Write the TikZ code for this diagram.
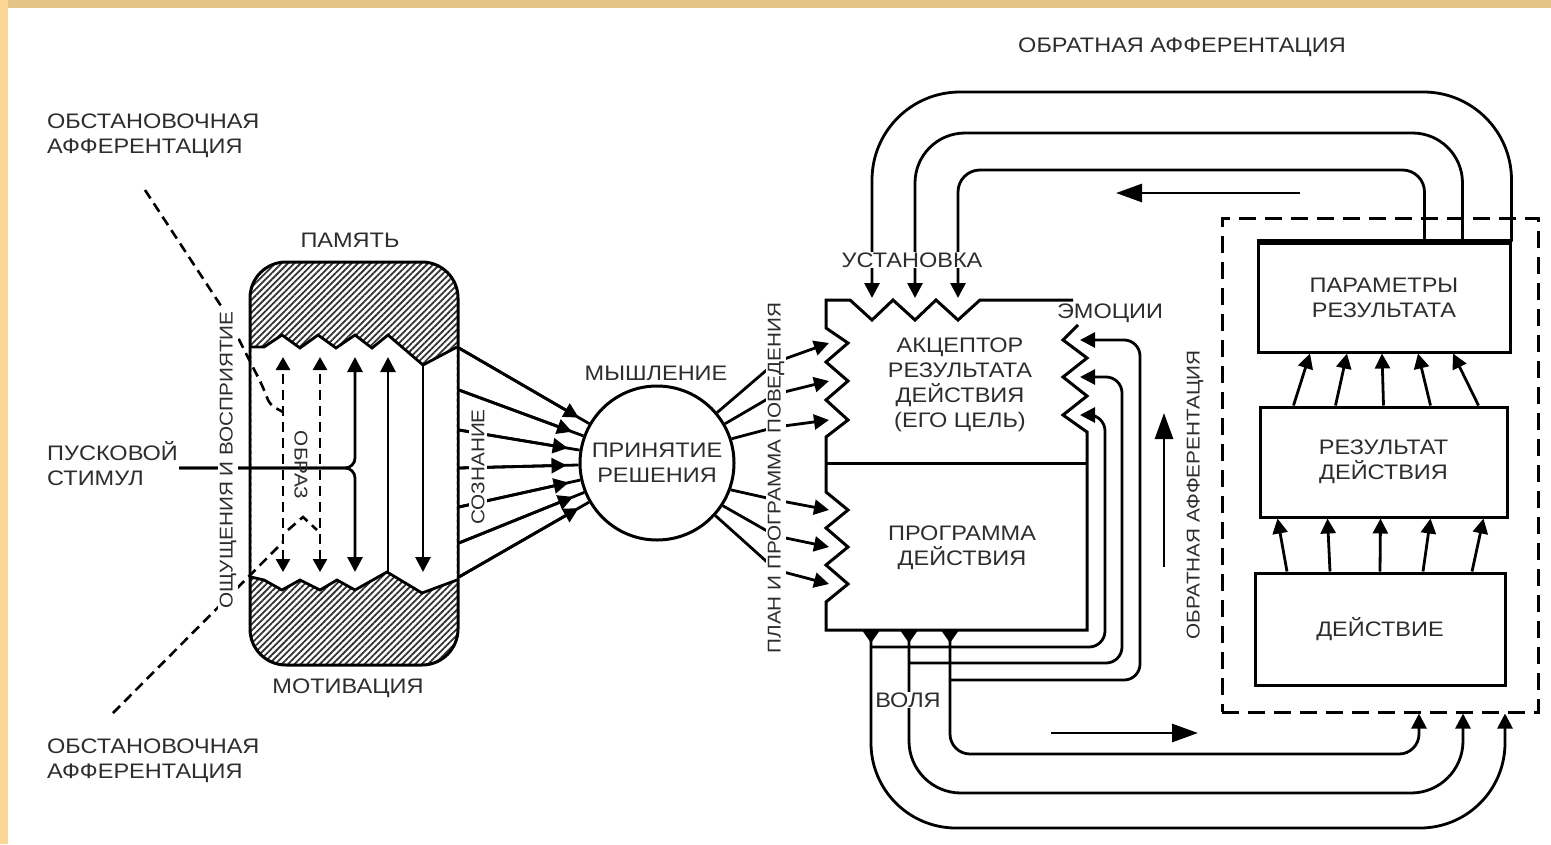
\documentclass[tikz,border=0pt]{standalone}
\usepackage{fontspec}
\setmainfont{Liberation Sans}[FakeStretch=1.12]
\usetikzlibrary{arrows.meta,patterns.meta}
\definecolor{frametop}{RGB}{227,196,134}
\definecolor{frameside}{RGB}{250,215,150}
\definecolor{ink}{RGB}{45,45,45}

\begin{document}
\begin{tikzpicture}[x=1pt,y=-1pt,
    lbl/.style={text=ink, font=\fontsize{21}{25}\selectfont, align=center, inner sep=1pt},
    vlbl/.style={text=ink, font=\fontsize{18.5}{22}\selectfont, rotate=90, fill=white, inner sep=2pt},
    box/.style={draw, line width=3pt, text=ink, font=\fontsize{21}{25}\selectfont, align=center},
    wire/.style={line width=2.8pt},
    arr/.style={line width=2.8pt, -{Triangle[length=15pt,width=15pt]}},
    dbl/.style={line width=2.6pt, {Triangle[length=13pt,width=14pt]}-{Triangle[length=13pt,width=14pt]}},
    bigarr/.style={line width=2.8pt, -{Triangle[length=26pt,width=18pt]}},
    will/.style={line width=2.8pt, {Triangle[reversed,length=12pt,width=16pt]}-{Triangle[length=15pt,width=15pt]}},
    aff/.style={line width=2.6pt, dash pattern=on 10pt off 6pt}
  ]
      % frame
      \fill[frametop] (0,0) rectangle (1551,8);
      \fill[frameside] (0,0) rectangle (8,844);
      \useasboundingbox (0,0) rectangle (1551,844);

      % memory block
      \node[draw, line width=3pt, rounded corners=36pt, minimum width=208pt, minimum height=403pt,
            pattern={Lines[angle=45,distance=4.5pt,line width=1.8pt]}, pattern color=black!80](mem) at (354,463.5){};
      \fill[white] (251.5,347) -- (264,347) -- (282,335) -- (300,348) -- (318,335) -- (336,348) -- (355,335)
            -- (372,348) -- (388,335) -- (423,365) -- (456.5,347) -- (456.5,580) -- (422,593) -- (387,572)
            -- (355,590) -- (337,580) -- (320,590) -- (300,580) -- (282,590) -- (264,580) -- (251.5,577) -- cycle;
      \draw[wire] (251,347) -- (264,347) -- (282,335) -- (300,348) -- (318,335) -- (336,348) -- (355,335)
            -- (372,348) -- (388,335) -- (423,365) -- (457,347);
      \draw[wire] (251,577) -- (264,580) -- (282,590) -- (300,580) -- (320,590) -- (337,580) -- (355,590)
            -- (387,572) -- (422,593) -- (457,580);

      \node[lbl, align=left, anchor=west](stim) at (46,464){ПУСКОВОЙ\\СТИМУЛ};
      \node[lbl, align=left, anchor=west](aff1) at (46,136){ОБСТАНОВОЧНАЯ\\АФФЕРЕНТАЦИЯ};
      \node[lbl, align=left, anchor=west](aff2) at (46,761){ОБСТАНОВОЧНАЯ\\АФФЕРЕНТАЦИЯ};

      % columns inside memory
      \draw[dbl, aff] (283,572) -- (283,357);
      \draw[dbl, aff] (320,572) -- (320,357);
      \coordinate(stimin) at (stim.east |- 0,468);
      \draw[arr, rounded corners=10pt] (stimin) -| (355,357);
      \draw[arr, rounded corners=10pt] (stimin) -| (355,572);
      \draw[arr] (388,572) -- (388,357);
      \draw[arr] (423,366) -- (423,572);

      % situational afferentation
      \draw[aff, rounded corners=6pt] (145,190) -- (225,312) -- (262,385) -- (270,405) -- (283,412);
      \draw[aff] (113,713) -- (283,542);
      \draw[aff] (288,530) -- (303,517) -- (317,530);

      % decision
      \node[lbl, circle, draw=black, line width=3pt, minimum size=154pt](circ) at (657,463){ПРИНЯТИЕ\\РЕШЕНИЯ};
      \node[lbl](think) at (656,373){МЫШЛЕНИЕ};
      \foreach \y in {348,390,430,468,507,543,577} {
        \draw[wire] (mem.east |- 0,\y) -- (circ);
        \draw[arr, shorten >=12pt] (mem.east |- 0,\y) -- (circ);
      }

      % acceptor and program
      \draw[line width=3pt] (1073,300) -- (980,300) -- (958,320) -- (936,300) -- (915,320) -- (893,300)
            -- (872,320) -- (850,300) -- (826,300) -- (826,328) -- (848,343) -- (826,362) -- (848,381)
            -- (826,400) -- (848,420) -- (826,437) -- (826,492) -- (848,510) -- (826,528) -- (848,547)
            -- (826,565) -- (848,584) -- (826,602) -- (826,630) -- (1087,630) -- (1087,432) -- (1063,415)
            -- (1087,396) -- (1063,377) -- (1087,358) -- (1063,340) -- (1078,325);
      \draw[line width=3pt] (826,463) -- (1087,463);
      \node[lbl](accept) at (960,385){АКЦЕПТОР\\РЕЗУЛЬТАТА\\ДЕЙСТВИЯ\\(ЕГО ЦЕЛЬ)};
      \node[lbl](prog) at (962,548){ПРОГРАММА\\ДЕЙСТВИЯ};

      \foreach \a/\ym/\y [count=\i] in {40/362/343, 30/394/381, 18/427/420, -20/500/510, -33/536/547, -42/570/584} {
        \coordinate(plan\i) at (829,\y);
        \draw[arr] (circ.\a) -- (776,\ym) -- (plan\i);
      }

      % result side
      \node[draw, line width=3pt, dash pattern=on 17pt off 9pt, minimum width=316pt, minimum height=494pt](fb) at (1380,465){};
      \node[box, minimum width=252pt, minimum height=109pt](param) at (1384,297.5){ПАРАМЕТРЫ\\РЕЗУЛЬТАТА};
      \draw[line width=5pt] (param.north west) -- (param.north east);
      \node[box, minimum width=247pt, minimum height=110pt](res) at (1383.5,462){РЕЗУЛЬТАТ\\ДЕЙСТВИЯ};
      \node[box, minimum width=250pt, minimum height=112pt](act) at (1380,629){ДЕЙСТВИЕ};
      \foreach \a/\b in {-90/-74,-48/-37,0/-2,47/34,95/69}
        \draw[arr] ([xshift=\a pt]res.north) -- ([xshift=\b pt]param.south);
      \foreach \a/\b in {-93/-106,-50/-56,0/-3,43/47,92/100}
        \draw[arr] ([xshift=\a pt]act.north) -- ([xshift=\b pt]res.south);

      % back afferentation loops
      \coordinate(set1) at (872,298);
      \coordinate(set2) at (915,298);
      \coordinate(set3) at (958,298);
      \draw[arr, rounded corners=88pt] (param.north east) |- (872,92) -- (set1);
      \draw[arr, rounded corners=50pt] ([xshift=-49pt]param.north east) |- (915,133) -- (set2);
      \draw[arr, rounded corners=22pt] ([xshift=-87pt]param.north east) |- (958,170) -- (set3);

      % will loops
      \coordinate(w1) at (871,631);
      \coordinate(w2) at (909,631);
      \coordinate(w3) at (950,631);
      \draw[will, rounded corners=85pt] (w1) |- (1505,828) -- (fb.south -| 1505,0);
      \draw[will, rounded corners=52pt] (w2) |- (1463,793) -- (fb.south -| 1463,0);
      \draw[will, rounded corners=20pt] (w3) |- (1419,754) -- (fb.south -| 1419,0);

      % emotions
      \coordinate(em1) at (1080,340);
      \coordinate(em2) at (1080,377);
      \coordinate(em3) at (1080,415);
      \draw[arr, rounded corners=16pt] (w3 |- 0,680) -- (1140,680) -- (1140,340) -- (em1);
      \draw[arr, rounded corners=16pt] (w2 |- 0,663) -- (1122,663) -- (1122,377) -- (em2);
      \draw[arr, rounded corners=16pt] (w1 |- 0,647) -- (1105,647) -- (1105,415) -- (em3);

      % flow arrows
      \draw[bigarr] (1300,193) -- (1116,193);
      \draw[bigarr] (1051,733) -- (1198,733);
      \draw[bigarr] (1164,567) -- (1164,413);

      % labels over lines
      \node[vlbl](sens) at (228,460){ОЩУЩЕНИЯ И ВОСПРИЯТИЕ};
      \node[vlbl](consc) at (478,467){СОЗНАНИЕ};
      \node[text=ink, font=\fontsize{18.5}{22}\selectfont, rotate=-90, inner sep=1pt](image) at (301,465){ОБРАЗ};
      \node[lbl](memlbl) at (350,240){ПАМЯТЬ};
      \node[lbl](motiv) at (348,688){МОТИВАЦИЯ};
      \node[vlbl](plan) at (776,478){ПЛАН И ПРОГРАММА ПОВЕДЕНИЯ};
      \node[lbl, fill=white](setl) at (912,260){УСТАНОВКА};
      \node[lbl](emo) at (1110,313){ЭМОЦИИ};
      \node[lbl, fill=white](willlbl) at (908,700){ВОЛЯ};
      \node[lbl](fbtop) at (1182,47){ОБРАТНАЯ АФФЕРЕНТАЦИЯ};
      \node[vlbl](fbside) at (1195,495){ОБРАТНАЯ АФФЕРЕНТАЦИЯ};
\end{tikzpicture}
\end{document}
